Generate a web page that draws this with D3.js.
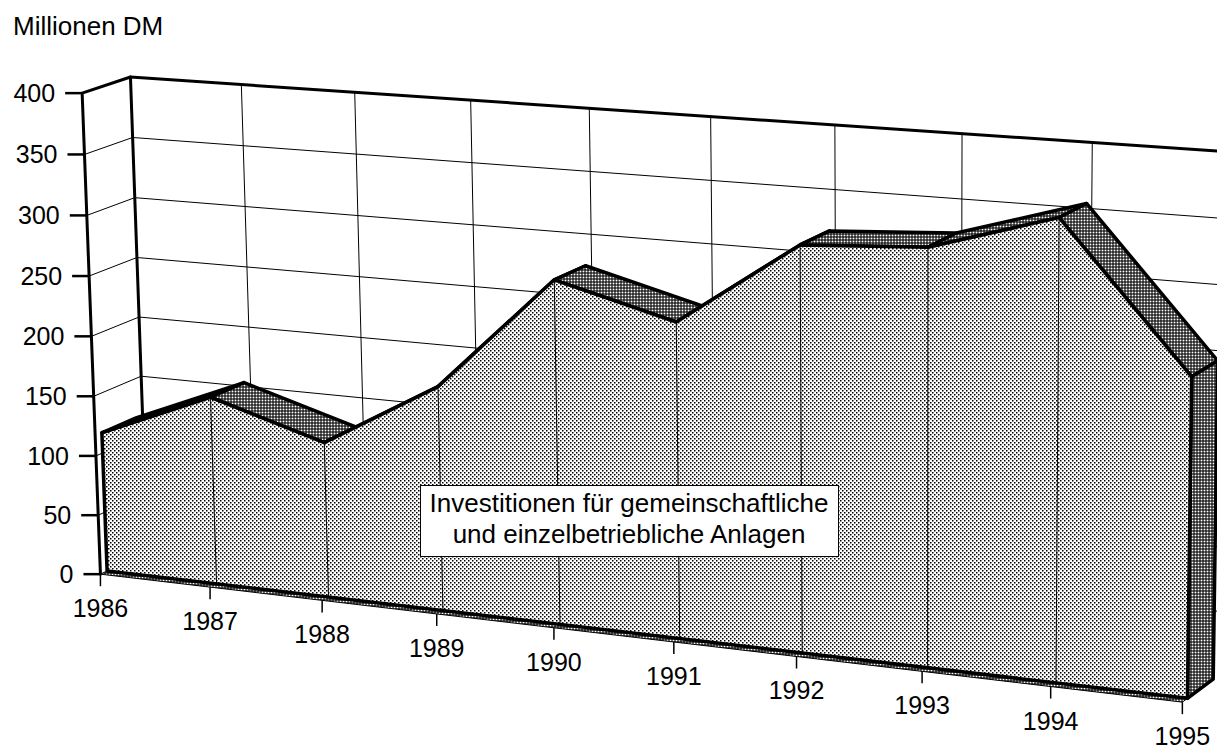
<!DOCTYPE html>
<html>
<head>
<meta charset="utf-8">
<script src="https://cdn.jsdelivr.net/npm/d3@7"></script>
<style>
  body { margin: 0; background: #fff; }
  svg text { font-family: "Liberation Sans", Arial, sans-serif; fill: #000; }
</style>
</head>
<body>
<div id="chart"></div>
<script>
// ---- data ----
const years = ["1986", "1987", "1988", "1989", "1990", "1991", "1992", "1993", "1994", "1995"];
const investitionen = [117, 156, 128, 183, 277, 252, 320, 326, 356, 245];
const valueTicks = [0, 50, 100, 150, 200, 250, 300, 350, 400];
const seriesLabel = ["Investitionen für gemeinschaftliche", "und einzelbetriebliche Anlagen"];
const unitLabel = "Millionen DM";

// ---- layout ----
const width = 1217, height = 749;
const zFront = 0.14, zBack = 0.86;

// camera anchors: [category index, value, depth, screen x, screen y]
const anchors = [
  [0, 0, 0, 100, 574], [0, 100, 0, 95.6, 456.7], [0, 200, 0, 91.1, 336], [0, 300, 0, 86.6, 215.5], [0, 400, 0, 82, 93],
  [1, 0, 0, 211, 587], [3, 0, 0, 438, 612], [4, 0, 0, 554, 627], [5, 0, 0, 674, 642], [6, 0, 0, 796, 657], [9, 0, 0, 1184, 703],
  [0, 400, 1, 129, 77], [0, 350, 1, 132, 138], [0, 300, 1, 133, 198],
  [1, 400, 1, 242, 85], [2, 400, 1, 358, 92.6], [3, 400, 1, 473, 100.4], [4, 400, 1, 591, 108.4],
  [5, 400, 1, 710, 116.5], [6, 400, 1, 830, 124.7], [7, 400, 1, 961, 133.6], [8, 400, 1, 1093, 142.6],
  [8, 350, 1, 1093, 208], [8, 300, 1, 1092, 273],
  [0, 0, zFront, 107, 571], [9, 0, zFront, 1185, 700]
];

const x = d3.scalePoint().domain(years).range([0, 1]);
const y = d3.scaleLinear().domain([0, 400]).range([0, 1]);
const xi = d3.scaleLinear().domain([0, years.length - 1]).range([0, 1]);

function solve(A, b) {
  const n = b.length;
  const M = A.map((r, i) => [...r, b[i]]);
  for (let c = 0; c < n; c++) {
    let piv = c;
    for (let r = c + 1; r < n; r++) if (Math.abs(M[r][c]) > Math.abs(M[piv][c])) piv = r;
    [M[c], M[piv]] = [M[piv], M[c]];
    for (let r = 0; r < n; r++) {
      if (r === c) continue;
      const f = M[r][c] / M[c][c];
      for (let k = c; k <= n; k++) M[r][k] -= f * M[c][k];
    }
  }
  return M.map((r, i) => r[n] / r[i]);
}

// least squares fit of a 3x4 perspective camera to the frame anchors
function fitCamera(pts) {
  const rows = [], rhs = [];
  pts.forEach(([i, v, z, u, w]) => {
    const a = xi(i), b = y(v);
    const un = (u - 600) / 600, wn = (w - 375) / 600;
    rows.push([a, b, z, 1, 0, 0, 0, 0, -un * a, -un * b, -un * z]); rhs.push(un);
    rows.push([0, 0, 0, 0, a, b, z, 1, -wn * a, -wn * b, -wn * z]); rhs.push(wn);
  });
  const n = 11;
  const A = d3.range(n).map(() => new Array(n).fill(0)), B = new Array(n).fill(0);
  rows.forEach((r, k) => {
    for (let i = 0; i < n; i++) {
      B[i] += r[i] * rhs[k];
      for (let j = 0; j < n; j++) A[i][j] += r[i] * r[j];
    }
  });
  return solve(A, B);
}
const cam = fitCamera(anchors);

// a: category position 0..1, b: value position 0..1, z: depth 0..1
function proj(a, b, z) {
  const w = cam[8] * a + cam[9] * b + cam[10] * z + 1;
  const u = (cam[0] * a + cam[1] * b + cam[2] * z + cam[3]) / w;
  const v = (cam[4] * a + cam[5] * b + cam[6] * z + cam[7]) / w;
  return [u * 600 + 600, v * 600 + 375];
}
const P = (year, value, z) => proj(x(year), y(value), z);

const svg = d3.select("#chart").append("svg")
  .attr("width", width).attr("height", height);

const defs = svg.append("defs");
const light = defs.append("pattern").attr("id", "light")
  .attr("width", 4).attr("height", 4).attr("patternUnits", "userSpaceOnUse");
light.append("rect").attr("width", 4).attr("height", 4).attr("fill", "#fff");
light.append("rect").attr("width", 1.5).attr("height", 1.5).attr("fill", "#000");
light.append("rect").attr("x", 2).attr("y", 2).attr("width", 1.5).attr("height", 1.5).attr("fill", "#000");
const dark = defs.append("pattern").attr("id", "dark")
  .attr("width", 3).attr("height", 3).attr("patternUnits", "userSpaceOnUse");
dark.append("rect").attr("width", 3).attr("height", 3).attr("fill", "#000");
dark.append("rect").attr("x", 0.55).attr("y", 0.55).attr("width", 1.9).attr("height", 1.9).attr("fill", "#fff");

const line = d3.line();
const first = years[0], last = years[years.length - 1];
const vMax = valueTicks[valueTicks.length - 1];

// walls
const walls = svg.append("g");
walls.append("path").attr("d", line([P(first, 0, 0), P(first, vMax, 0), P(first, vMax, 1), P(first, 0, 1)]) + "Z").attr("fill", "#fff");
walls.append("path").attr("d", line([P(first, 0, 1), P(last, 0, 1), P(last, vMax, 1), P(first, vMax, 1)]) + "Z").attr("fill", "#fff");

const grid = svg.append("g").attr("stroke", "#000").attr("stroke-width", 1).attr("fill", "none");
valueTicks.slice(1, -1).forEach(v => {
  grid.append("path").attr("d", line([P(first, v, 0), P(first, v, 1), P(last, v, 1)]));
});
years.slice(1).forEach(yr => {
  grid.append("path").attr("d", line([P(yr, 0, 1), P(yr, vMax, 1)]));
});

const edges = svg.append("g").attr("stroke", "#000").attr("stroke-width", 3).attr("fill", "none")
  .attr("stroke-linejoin", "round").attr("stroke-linecap", "round");
edges.append("path").attr("d", line([P(first, 0, 0), P(first, vMax, 0), P(first, vMax, 1), P(last, vMax, 1)]));
edges.append("path").attr("d", line([P(first, 0, 1), P(first, vMax, 1)]));

// floor strip in front of the area
svg.append("path")
  .attr("d", line([P(first, 0, 0), P(last, 0, 0), P(last, 0, zFront), P(first, 0, zFront)]) + "Z")
  .attr("fill", "url(#dark)").attr("stroke", "#000").attr("stroke-width", 1);

// area: top faces, right side, then the front face
const area = svg.append("g").attr("stroke", "#000").attr("stroke-linejoin", "round");
const pts = years.map((yr, i) => ({ yr, v: investitionen[i] }));
d3.pairs(pts).forEach(([p0, p1]) => {
  area.append("path")
    .attr("d", line([P(p0.yr, p0.v, zFront), P(p1.yr, p1.v, zFront), P(p1.yr, p1.v, zBack), P(p0.yr, p0.v, zBack)]) + "Z")
    .attr("fill", "url(#dark)").attr("stroke-width", 3.5);
});
const lastPt = pts[pts.length - 1];
area.append("path")
  .attr("d", line([P(last, 0, zFront), P(last, lastPt.v, zFront), P(last, lastPt.v, zBack), P(last, 0, zBack)]) + "Z")
  .attr("fill", "url(#dark)").attr("stroke-width", 3.5);
area.append("path")
  .attr("d", line([P(first, 0, zFront), ...pts.map(p => P(p.yr, p.v, zFront)), P(last, 0, zFront)]) + "Z")
  .attr("fill", "url(#light)").attr("stroke-width", 3.5);
pts.slice(1, -1).forEach(p => {
  area.append("path").attr("d", line([P(p.yr, 0, zFront), P(p.yr, p.v, zFront)])).attr("stroke-width", 1).attr("fill", "none");
});

// value axis
const yAxis = svg.append("g");
valueTicks.forEach(v => {
  const [px, py] = P(first, v, 0);
  yAxis.append("line").attr("x1", px - 17).attr("x2", px).attr("y1", py).attr("y2", py)
    .attr("stroke", "#000").attr("stroke-width", 2.5);
  yAxis.append("text").attr("x", px - 27).attr("y", py).attr("dy", "0.35em")
    .attr("text-anchor", "end").attr("font-size", 25).text(v);
});

// category axis
const xAxis = svg.append("g");
years.forEach(yr => {
  const [px, py] = P(yr, 0, 0);
  xAxis.append("line").attr("x1", px).attr("x2", px).attr("y1", py).attr("y2", py + 12)
    .attr("stroke", "#000").attr("stroke-width", 1.5);
  xAxis.append("text").attr("x", px).attr("y", py + 43)
    .attr("text-anchor", "middle").attr("font-size", 25).text(yr);
});

svg.append("text").attr("x", 13).attr("y", 35).attr("font-size", 26).text(unitLabel);

const box = svg.append("g");
box.append("rect").attr("x", 420.5).attr("y", 485.5).attr("width", 418).attr("height", 71)
  .attr("fill", "#fff").attr("stroke", "#000").attr("stroke-width", 1);
box.selectAll("text").data(seriesLabel).join("text")
  .attr("x", 629).attr("y", (d, i) => 512 + i * 31)
  .attr("text-anchor", "middle").attr("font-size", 26).text(d => d);
</script>
</body>
</html>
